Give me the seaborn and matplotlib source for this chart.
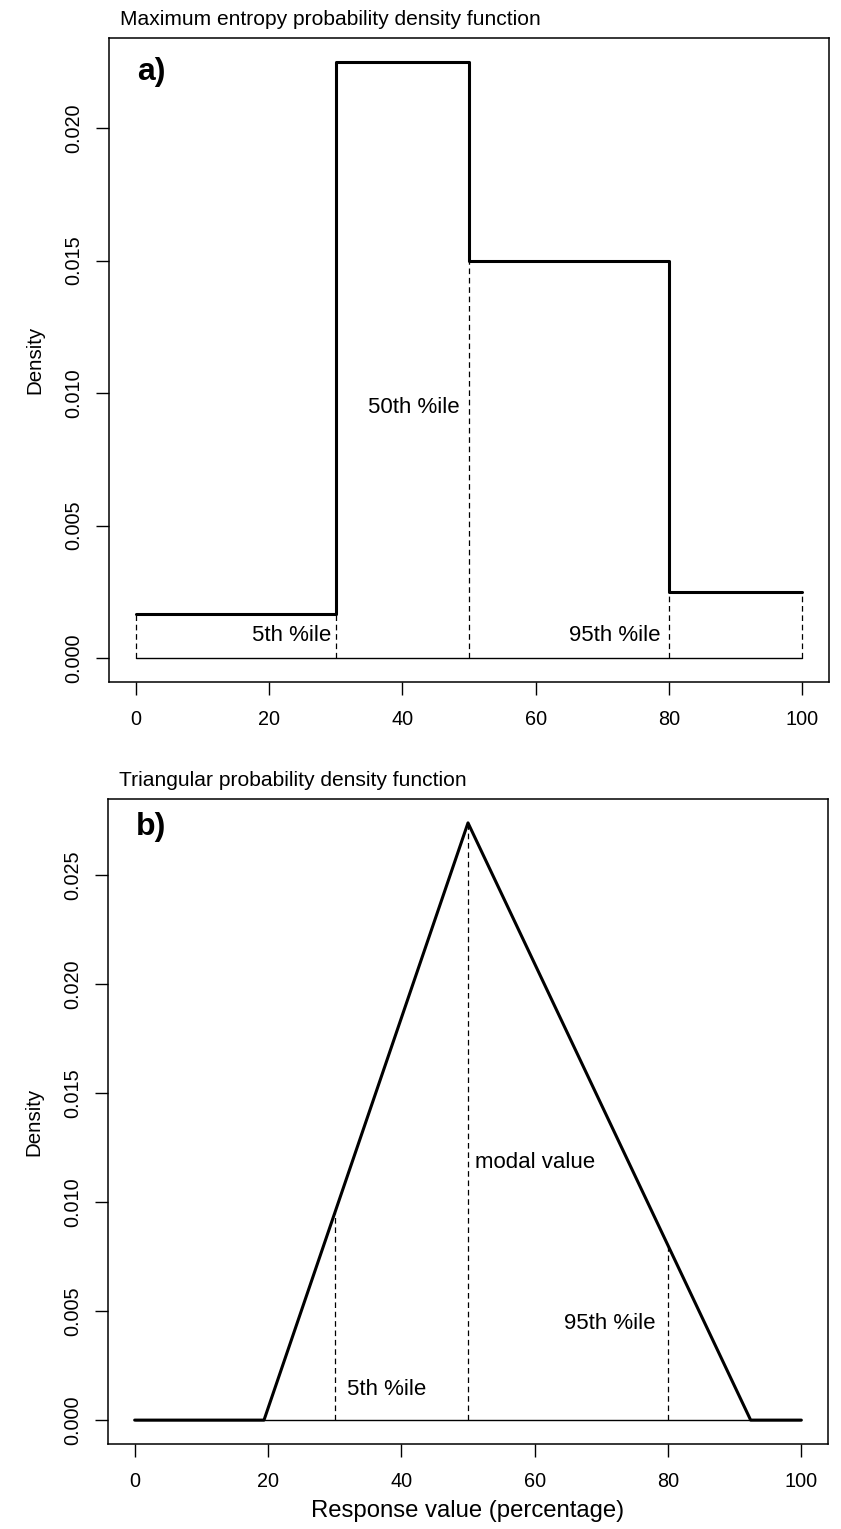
import numpy as np
import pandas as pd
import matplotlib
matplotlib.use("Agg")
import matplotlib.pyplot as plt
import seaborn as sns

# Maximum entropy pdf: bin edges (percentiles) and piecewise-constant densities
step_edges = [0, 30, 50, 80, 100]
step_density = [0.001667, 0.0225, 0.015, 0.0025]

# Triangular pdf: lower limit, mode, upper limit and peak density
tri_x = [0, 19.4, 50, 92.4, 100]
tri_y = [0.0, 0.0, 0.0274, 0.0, 0.0]
tri_marks = [30, 50, 80]

x_ticks = [0, 20, 40, 60, 80, 100]
ya_ticks = [0.000, 0.005, 0.010, 0.015, 0.020]
yb_ticks = [0.000, 0.005, 0.010, 0.015, 0.020, 0.025]

sns.set_style("ticks")
plt.rcParams["font.family"] = ["Liberation Sans", "DejaVu Sans"]
plt.rcParams.update({
    "axes.linewidth": 1.1,
    "xtick.major.width": 1.0,
    "ytick.major.width": 1.0,
    "xtick.major.size": 9.5,
    "ytick.major.size": 9.5,
    "xtick.color": "black",
    "ytick.color": "black",
    "axes.edgecolor": "black",
    "text.color": "black",
    "axes.labelcolor": "black",
})

W, H = 841, 1529
fig = plt.figure(figsize=(W / 100, H / 100), dpi=100)
ax_a = fig.add_axes([109 / W, 1 - 682 / H, 720 / W, 644 / H])
ax_b = fig.add_axes([108 / W, 1 - 1444 / H, 720 / W, 645 / H])

FS_TICK = 14.3
FS_NOTE = 16
FS_TITLE = 15.1
FS_XLAB = 17.2
FS_YLAB = 14.8
FS_TAG = 23
dash = dict(color="black", lw=0.9, linestyle=(0, (4.5, 3)))


def style_axes(ax, yticks, ylim):
    ax.set_xlim(-4, 104)
    ax.set_ylim(*ylim)
    ax.set_xticks(x_ticks)
    ax.set_xticklabels([str(t) for t in x_ticks], fontsize=FS_TICK)
    ax.set_yticks(yticks)
    ax.set_yticklabels([f"{t:.3f}" for t in yticks], fontsize=FS_TICK,
                       rotation=90, va="center")
    ax.tick_params(axis="x", pad=11)
    ax.tick_params(axis="y", pad=9)
    ax.set_ylabel("Density", fontsize=FS_YLAB, labelpad=14)
    for s in ax.spines.values():
        s.set_visible(True)
        s.set_color("black")


# ---- a) maximum entropy ----
ya_max = max(step_density)
ax_a.plot([step_edges[0], step_edges[-1]], [0, 0], color="black", lw=1.0)
step_df = pd.DataFrame({"x": step_edges, "y": step_density + [step_density[-1]]})
sns.lineplot(data=step_df, x="x", y="y", ax=ax_a, color="black", lw=2.2,
             drawstyle="steps-post", estimator=None)
for i, e in enumerate(step_edges):
    top = step_density[min(i, len(step_density) - 1)]
    if 0 < i < len(step_density):
        top = min(step_density[i - 1], step_density[i])
    ax_a.plot([e, e], [0, top], **dash)
ax_a.text(29.3, 0.00085, "5th %ile", ha="right", va="center", fontsize=FS_NOTE)
ax_a.text(48.6, 0.00945, "50th %ile", ha="right", va="center", fontsize=FS_NOTE)
ax_a.text(78.8, 0.00085, "95th %ile", ha="right", va="center", fontsize=FS_NOTE)
ax_a.text(0.2, 0.0221, "a)", ha="left", va="center", fontsize=FS_TAG,
          fontweight="bold")
style_axes(ax_a, ya_ticks, (-0.04 * ya_max, 1.04 * ya_max))
ax_a.set_xlabel("")
ax_a.text(0.015, 1.014, "Maximum entropy probability density function",
          transform=ax_a.transAxes, ha="left", va="bottom", fontsize=FS_TITLE)

# ---- b) triangular ----
yb_max = max(tri_y)
ax_b.plot([tri_x[0], tri_x[-1]], [0, 0], color="black", lw=1.0)
tri_df = pd.DataFrame({"x": tri_x, "y": tri_y})
sns.lineplot(data=tri_df, x="x", y="y", ax=ax_b, color="black", lw=2.2,
             estimator=None, sort=False)
for m in tri_marks:
    ax_b.plot([m, m], [0, np.interp(m, tri_x, tri_y)], **dash)
ax_b.text(31.8, 0.00142, "5th %ile", ha="left", va="center", fontsize=FS_NOTE)
ax_b.text(51.0, 0.01183, "modal value", ha="left", va="center", fontsize=FS_NOTE)
ax_b.text(78.2, 0.00445, "95th %ile", ha="right", va="center", fontsize=FS_NOTE)
ax_b.text(0.2, 0.0272, "b)", ha="left", va="center", fontsize=FS_TAG,
          fontweight="bold")
style_axes(ax_b, yb_ticks, (-0.04 * yb_max, 1.04 * yb_max))
ax_b.set_xlabel("Response value (percentage)", fontsize=FS_XLAB, labelpad=6)
ax_b.text(0.015, 1.014, "Triangular probability density function",
          transform=ax_b.transAxes, ha="left", va="bottom", fontsize=FS_TITLE)

fig.savefig("out.png", dpi=100)
